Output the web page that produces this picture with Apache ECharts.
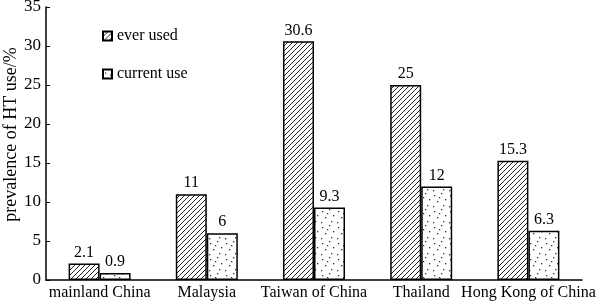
<!DOCTYPE html>
<html><head><meta charset="utf-8">
<script src="https://cdn.jsdelivr.net/npm/echarts@6/dist/echarts.min.js"></script>
<style>html,body{margin:0;padding:0;background:#fff}#c{width:600px;height:304px}</style>
</head><body><div id="c"></div>
<script>
const categories = ['mainland China', 'Malaysia', 'Taiwan of China', 'Thailand', 'Hong Kong of China'];
const everUsed = [2.1, 11, 30.6, 25, 15.3];
const currentUse = [0.9, 6, 9.3, 12, 6.3];
const seriesNames = ['ever used', 'current use'];
const yTicks = [0, 5, 10, 15, 20, 25, 30, 35];

function hatch() {
  const c = document.createElement('canvas'); c.width = 5; c.height = 5;
  const g = c.getContext('2d');
  g.fillStyle = '#fff'; g.fillRect(0, 0, 5, 5);
  g.strokeStyle = '#222'; g.lineWidth = 1;
  g.beginPath();
  g.moveTo(-1, 6); g.lineTo(6, -1);
  g.moveTo(-1, 1); g.lineTo(1, -1);
  g.moveTo(4, 6); g.lineTo(6, 4);
  g.stroke();
  return c;
}
function dots() {
  const c = document.createElement('canvas'); c.width = 16; c.height = 16;
  const g = c.getContext('2d');
  g.fillStyle = '#fff'; g.fillRect(0, 0, 16, 16);
  g.fillStyle = '#333';
  [[2,3],[9,1],[13,7],[5,9],[11,13],[1,14],[7,5]].forEach(p => g.fillRect(p[0], p[1], 1.3, 1.3));
  return c;
}
const font = 'Liberation Serif';
const chart = echarts.init(document.getElementById('c'), null, {renderer: 'canvas'});
chart.setOption({
  animation: false,
  textStyle: {fontFamily: font, color: '#000'},
  grid: {left: 46, right: 18, top: 7, bottom: 24, containLabel: false, outerBoundsMode: 'none'},
  legend: {
    orient: 'vertical', left: 97, top: 23, itemWidth: 9, itemHeight: 9, itemGap: 22,
    icon: 'rect',
    textStyle: {fontFamily: font, fontSize: 16, color: '#000'},
    data: seriesNames
  },
  xAxis: {
    type: 'category', data: categories,
    axisLine: {lineStyle: {color: '#000', width: 1.5}},
    axisTick: {inside: true, length: 5, lineStyle: {color: '#000'}},
    axisLabel: {fontFamily: font, fontSize: 16, color: '#000', margin: 5, interval: 0, hideOverlap: false}
  },
  yAxis: {
    type: 'value', min: yTicks[0], max: yTicks[yTicks.length - 1], interval: 5,
    name: 'prevalence of HT use/%', nameLocation: 'middle', nameGap: 26, nameRotate: 90,
    nameMoveOverlap: false,
    nameTextStyle: {fontFamily: font, fontSize: 18, color: '#000', padding: [0, 0, 0, 18]},
    axisLine: {show: true, lineStyle: {color: '#000', width: 1.5}},
    axisTick: {show: true, inside: true, length: 4, lineStyle: {color: '#000'}},
    axisLabel: {fontFamily: font, fontSize: 17, color: '#000', margin: 5},
    splitLine: {show: false}
  },
  series: [
    {name: seriesNames[0], type: 'bar', data: everUsed, barWidth: 31, barGap: '0%',
     itemStyle: {color: {image: hatch(), repeat: 'repeat'}, borderColor: '#000', borderWidth: 1.5},
     label: {show: true, position: 'top', fontFamily: font, fontSize: 16, color: '#000', distance: 3}},
    {name: seriesNames[1], type: 'bar', data: currentUse, barWidth: 31,
     itemStyle: {color: {image: dots(), repeat: 'repeat'}, borderColor: '#000', borderWidth: 1.5},
     label: {show: true, position: 'top', fontFamily: font, fontSize: 16, color: '#000', distance: 3}}
  ]
});
</script></body></html>
